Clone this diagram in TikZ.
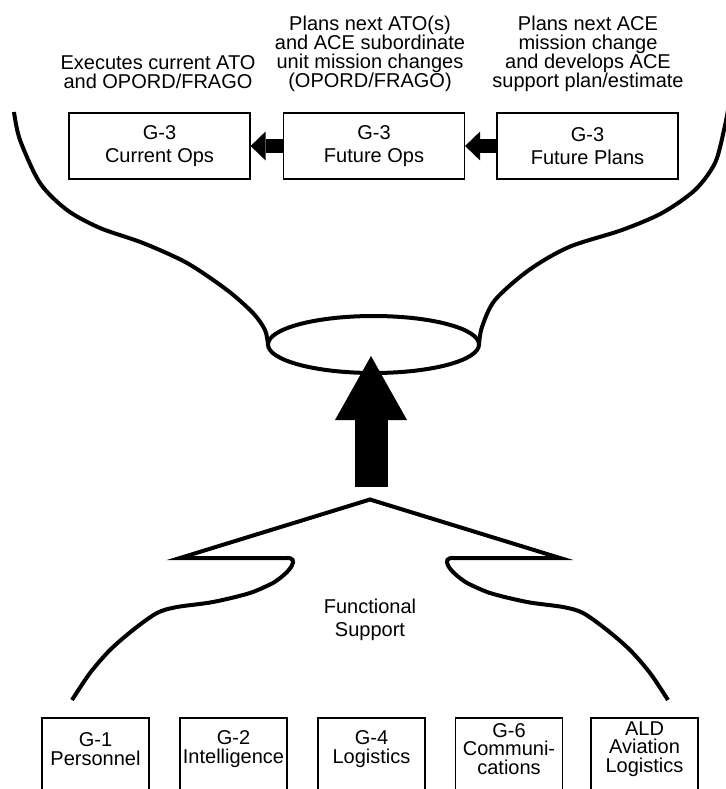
\documentclass[tikz,border=0pt]{standalone}
\usepackage{fontspec}
\setmainfont{Liberation Sans}
\usetikzlibrary{arrows.meta,shapes.geometric}

\begin{document}
\begin{tikzpicture}[x=0.75pt,y=-0.75pt,
	note/.style={align=center,inner sep=0pt,font=\fontsize{15pt}{14.25pt}\selectfont\lineskiplimit-10pt},
	widenote/.style={note,font=\fontsize{15pt}{17.25pt}\selectfont\lineskiplimit-10pt},
	g3box/.style={widenote,draw,line width=0.9pt,minimum width=135.75pt,minimum height=49.5pt},
	gbox/.style={align=center,inner sep=0pt,outer sep=0pt,minimum width=80.25pt,minimum height=46.5pt,font=\fontsize{15pt}{13.875pt}\selectfont\lineskiplimit-10pt},
	boxline/.style={line width=0.9pt},
	wave/.style={line width=3pt},
	fatarrow/.style={line width=10.5pt,-{Triangle[length=11.25pt,width=21.75pt,line width=0pt]}},
	bigarrow/.style={line width=24.75pt,-{Triangle[length=48pt,width=54pt,line width=0pt]}}]
	\useasboundingbox (0,0) rectangle (725,789);

	% G-3 cells and what they do
	\node[note] (execnote) at (158,72.5) {Executes current ATO\\and OPORD/FRAGO};
	\node[note] (opsnote) at (370,53.5) {Plans next ATO(s)\\and ACE subordinate\\unit mission changes\\(OPORD/FRAGO)};
	\node[note] (plansnote) at (588,53.5) {Plans next ACE\\mission change\\and develops ACE\\support plan/estimate};
	\node[g3box] (cops) at (159.5,146) {G-3\\Current Ops};
	\node[g3box] (fops) at (374,146) {G-3\\Future Ops};
	\node[g3box] (fplans) at (587.5,146) {G-3\\Future Plans};
	\draw[fatarrow] (fplans) -- (fops);
	\draw[fatarrow] (fops) -- (cops);

	% funnel
	\node[draw,ellipse,line width=3pt,minimum width=158.25pt,minimum height=42.75pt,inner sep=0pt,outer sep=0pt] (hub) at (373.5,344.5) {};
	\draw[wave] plot[smooth] coordinates {(14,112) (20,140) (40,183) (67,210) (100,228) (143,243) (187,263) (227,290) (253,313) (265,330) (hub.west)};
	\draw[wave] plot[smooth] coordinates {(728,110) (724,130) (715,163) (695,190) (662,213) (622,230) (569,247) (529,270) (495,300) (482,327) (hub.east)};

	\coordinate (upfoot) at (371,487);
	\coordinate (uptip) at (371,356);
	\draw[bigarrow] (upfoot) -- (uptip);

	% lower jaw
	\coordinate (apex) at (370,499.5);
	\draw[wave,line join=miter] plot[smooth] coordinates {(72,700) (90,673) (110,650) (133,630) (157,613) (177,607) (213,602) (250,593) (273,583)}
		.. controls (292,571) and (300,557) .. (286,558) -- (180,558) -- (apex) -- (560,558) -- (454,558)
		.. controls (440,557) and (448,571) .. (467,583)
		-- plot[smooth] coordinates {(467,583) (490,593) (527,602) (563,607) (583,613) (607,630) (630,650) (650,673) (668,700)};
	\node[widenote] (funcsup) at (370,620) {Functional\\Support};

	% staff sections
	\foreach \nm/\cx/\lbl in {g1/95.5/{G-1\\Personnel},g2/233.5/{G-2\\Intelligence},g4/371.5/{G-4\\Logistics},g6/509/{G-6\\Communi-\\cations},ald/644.5/{ALD\\Aviation\\Logistics}}{
		\node[gbox] (\nm) at (\cx,749) {\lbl};
		\draw[boxline] ([yshift=-20pt]\nm.south west) -- (\nm.north west) -- (\nm.north east) -- ([yshift=-20pt]\nm.south east);
	}
\end{tikzpicture}
\end{document}
